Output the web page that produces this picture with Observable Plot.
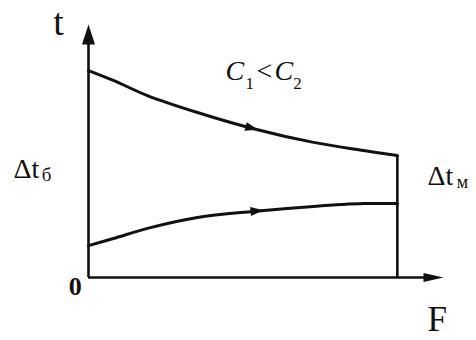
<!DOCTYPE html>
<html><head><meta charset="utf-8">
<script src="https://cdn.jsdelivr.net/npm/d3@7"></script>
<script src="https://cdn.jsdelivr.net/npm/@observablehq/plot@0.6"></script>
<style>body{margin:0;background:#fff}</style>
</head><body><div id="chart"></div>
<script>
// F positions along the heat-exchanger surface
const F = [0, 0.70, 1.66, 3.07, 4.62, 6.34, 7.75, 8.70];
// hot fluid temperature (upper curve)
const tHot = [8.18, 7.79, 7.19, 6.52, 5.89, 5.34, 5.02, 4.82];
// cold fluid temperature (lower curve)
const tCold = [1.26, 1.54, 1.94, 2.37, 2.61, 2.81, 2.92, 2.92];
// flow-direction arrow positions
const arrowF = [4.78, 4.93];
const arrowT = [5.84, 2.66];
// labels
const labels = ["t", "Δt", "б", "Δt", "м", "0", "F", "C", "1", "<", "C", "2"];
const labelF = [-0.99, -2.11, -1.32, 9.55, 10.37, -0.37, 9.55, 3.86, 4.42, 4.73, 5.24, 5.77];
const labelT = [9.57, 3.95, 3.83, 3.64, 3.52, -0.71, -2.13, 7.79, 7.47, 7.79, 7.79, 7.47];

const hot = F.map((f, i) => ({F: f, t: tHot[i]}));
const cold = F.map((f, i) => ({F: f, t: tCold[i]}));
const Fend = F[F.length - 1];

function head(angleDeg, L, W) {
  const a = angleDeg * Math.PI / 180, c = Math.cos(a), s = Math.sin(a);
  return {draw(ctx) {
    const bx = -L * c, by = -L * s;
    ctx.moveTo(0, 0);
    ctx.lineTo(bx - W * s, by + W * c);
    ctx.lineTo(bx + W * s, by - W * c);
    ctx.closePath();
  }};
}
const serif = "'Liberation Serif', 'Times New Roman', serif";
const lab = (idx, size, extra = {}) => Plot.text(idx.map(i => ({s: labels[i], F: labelF[i], t: labelT[i]})), {
  x: "F", y: "t", text: "s", textAnchor: "start", lineAnchor: "bottom",
  fontSize: size, fontFamily: serif, fill: "#111", ...extra
});

const ink = "#111";
const chart = Plot.plot({
  width: 476, height: 340,
  marginLeft: 88, marginRight: 33, marginTop: 24, marginBottom: 63,
  x: {domain: [0, 10], axis: null},
  y: {domain: [0, 10], axis: null},
  style: {background: "#fff", overflow: "visible", fontFamily: serif},
  marks: [
    Plot.ruleX([0], {y1: 0, y2: 9.4, stroke: ink, strokeWidth: 2.6}),
    Plot.ruleY([0], {x1: 0, x2: 9.6, stroke: ink, strokeWidth: 2.4}),
    Plot.dot([{F: 0, t: 10}], {x: "F", y: "t", r: 1, symbol: head(-90, 20, 6.5), fill: ink, stroke: "none"}),
    Plot.dot([{F: 10, t: 0}], {x: "F", y: "t", r: 1, symbol: head(0, 20, 4.5), fill: ink, stroke: "none"}),
    Plot.ruleX([Fend], {y1: 0, y2: tHot[tHot.length - 1], stroke: ink, strokeWidth: 2.6}),
    Plot.line(hot, {x: "F", y: "t", curve: "catmull-rom", stroke: ink, strokeWidth: 3}),
    Plot.line(cold, {x: "F", y: "t", curve: "catmull-rom", stroke: ink, strokeWidth: 3}),
    Plot.dot([{F: arrowF[0], t: arrowT[0]}], {x: "F", y: "t", r: 1, symbol: head(14.5, 13, 4.5), fill: ink, stroke: "none"}),
    Plot.dot([{F: arrowF[1], t: arrowT[1]}], {x: "F", y: "t", r: 1, symbol: head(-5.4, 13, 4.5), fill: ink, stroke: "none"}),
    lab([0], 38),
    lab([1, 3], 28),
    lab([2], 19),
    lab([4], 18),
    lab([5], 26, {fontWeight: "bold", textAnchor: "middle"}),
    lab([6], 35),
    lab([7, 10], 28, {fontStyle: "italic"}),
    lab([8, 11], 17),
    lab([9], 28)
  ]
});
d3.select(chart).selectAll("text").style("font-family", serif);
document.getElementById("chart").append(chart);
</script></body></html>
